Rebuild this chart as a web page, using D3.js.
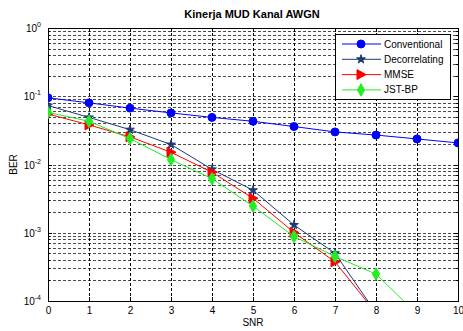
<!DOCTYPE html>
<html>
<head>
<meta charset="utf-8">
<script src="https://cdn.jsdelivr.net/npm/d3@7"></script>
<style>
  html, body { margin: 0; padding: 0; background: #fff; }
  svg { display: block; font-family: "Liberation Sans", Arial, sans-serif; }
</style>
</head>
<body>
<svg id="chart" width="463" height="331"></svg>
<script>
// SNR values and BER per detector
const snr = [0, 1, 2, 3, 4, 5, 6, 7, 8, 9, 10];
const conventional = [0.095, 0.080, 0.067, 0.057, 0.049, 0.043, 0.036, 0.030, 0.027, 0.0237, 0.0207];
const decorrelating = [0.073, 0.049, 0.0324, 0.0196, 0.0085, 0.0042, 0.0013, 0.00050, 0.000067];
const mmse = [0.055, 0.038, 0.0254, 0.0151, 0.0077, 0.0032, 0.00101, 0.000375, 0.000067];
const jstbp = [0.058, 0.043, 0.024, 0.0118, 0.0062, 0.00246, 0.00088, 0.00045, 0.000248, 0.000065];

const xTicks = [0, 1, 2, 3, 4, 5, 6, 7, 8, 9, 10];
const yDecades = [0, -1, -2, -3, -4];

const seriesList = [
  { name: "Conventional", values: conventional, color: "#0000ff", marker: "circle" },
  { name: "Decorrelating", values: decorrelating, color: "#1c3a78", marker: "star" },
  { name: "MMSE", values: mmse, color: "#ff0000", marker: "triangle" },
  { name: "JST-BP", values: jstbp, color: "#22ee22", marker: "diamond" }
];

const svg = d3.select("#chart");
const plot = { left: 48, right: 458, top: 28, bottom: 301 };

const x = d3.scaleLinear().domain([0, 10]).range([plot.left, plot.right]);
const y = d3.scaleLog().domain([1e-4, 1]).range([plot.bottom, plot.top]);

svg.append("clipPath").attr("id", "clip")
  .append("rect")
  .attr("x", plot.left).attr("y", plot.top)
  .attr("width", plot.right - plot.left).attr("height", plot.bottom - plot.top);

// grid (MATLAB style dotted)
const grid = svg.append("g");
const minorVals = [];
for (let e = -4; e < 0; e++) {
  for (let m = 1; m <= 9; m++) minorVals.push(m * Math.pow(10, e));
}
grid.selectAll("line.h")
  .data(minorVals.filter(v => v > 1e-4))
  .join("line")
  .attr("x1", plot.left).attr("x2", plot.right)
  .attr("y1", d => Math.round(y(d)) + 0.5).attr("y2", d => Math.round(y(d)) + 0.5)
  .attr("stroke", "#000")
  .attr("stroke-opacity", 0.7)
  .attr("stroke-dasharray", "3,2");
grid.selectAll("line.v")
  .data(xTicks.slice(1, -1))
  .join("line")
  .attr("x1", d => Math.round(x(d)) + 0.5).attr("x2", d => Math.round(x(d)) + 0.5)
  .attr("y1", plot.top).attr("y2", plot.bottom)
  .attr("stroke", "#000")
  .attr("stroke-dasharray", "3,2");

// axes
const xAxis = svg.append("g")
  .attr("transform", `translate(0,${plot.bottom + 0.5})`)
  .call(d3.axisBottom(x).tickValues(xTicks).tickSize(0).tickPadding(5).tickFormat(d3.format("d")));
xAxis.select(".domain").remove();
xAxis.selectAll("text").attr("font-size", 10).attr("fill", "#000").attr("font-family", "Liberation Sans, Arial, sans-serif");

const yLabels = svg.append("g");
yDecades.forEach(e => {
  const t = yLabels.append("text")
    .attr("x", 41)
    .attr("y", y(Math.pow(10, e)) + 4)
    .attr("text-anchor", "end")
    .attr("font-size", 10)
    .attr("fill", "#000");
  t.append("tspan").text("10");
  t.append("tspan").attr("dy", -5).attr("font-size", 7).text(e);
});

// tick marks inside on all four sides
const ticks = svg.append("g").attr("stroke", "#000").attr("stroke-width", 1);
xTicks.forEach(v => {
  const px = Math.round(x(v)) + 0.5;
  ticks.append("line").attr("x1", px).attr("x2", px).attr("y1", plot.bottom).attr("y2", plot.bottom - 4);
  ticks.append("line").attr("x1", px).attr("x2", px).attr("y1", plot.top).attr("y2", plot.top + 4);
});
minorVals.concat([1]).forEach(v => {
  const py = Math.round(y(v)) + 0.5;
  const len = Math.abs(Math.log10(v) - Math.round(Math.log10(v))) < 1e-9 ? 4 : 2;
  ticks.append("line").attr("x1", plot.left).attr("x2", plot.left + len).attr("y1", py).attr("y2", py);
  ticks.append("line").attr("x1", plot.right).attr("x2", plot.right - len).attr("y1", py).attr("y2", py);
});

svg.append("rect")
  .attr("x", plot.left + 0.5).attr("y", plot.top + 0.5)
  .attr("width", plot.right - plot.left).attr("height", plot.bottom - plot.top)
  .attr("fill", "none").attr("stroke", "#000");

// lines + markers
const line = d3.line().x((d, i) => x(snr[i])).y(d => y(d));
const symbolMap = {
  circle: d3.symbol().type(d3.symbolCircle).size(50),
  star: d3.symbol().type(d3.symbolStar).size(24),
  diamond: d3.symbol().type(d3.symbolDiamond).size(45)
};
function drawMarker(g, type, color) {
  if (type === "triangle") {
    g.append("path").attr("d", "M-4,-5L5,0L-4,5Z").attr("fill", color).attr("stroke", color);
  } else {
    g.append("path").attr("d", symbolMap[type]()).attr("fill", color).attr("stroke", color);
  }
}

const data = svg.append("g").attr("clip-path", "url(#clip)");
seriesList.forEach(s => {
  data.append("path")
    .attr("d", line(s.values))
    .attr("fill", "none")
    .attr("stroke", s.color)
    .attr("stroke-width", 1);
  s.values.forEach((v, i) => {
    if (v < 1e-4) return;
    const g = data.append("g").attr("transform", `translate(${x(snr[i])},${y(v)})`);
    drawMarker(g, s.marker, s.color);
  });
});

// titles
svg.append("text")
  .attr("x", 252).attr("y", 18)
  .attr("text-anchor", "middle")
  .attr("font-size", 11).attr("font-weight", "bold")
  .text("Kinerja MUD Kanal AWGN");
svg.append("text")
  .attr("x", (plot.left + plot.right) / 2).attr("y", 326)
  .attr("text-anchor", "middle")
  .attr("font-size", 10)
  .text("SNR");
svg.append("text")
  .attr("transform", `translate(17,${(plot.top + plot.bottom) / 2}) rotate(-90)`)
  .attr("text-anchor", "middle")
  .attr("font-size", 10)
  .text("BER");

// legend
const legend = svg.append("g").attr("transform", "translate(335,34)");
legend.append("rect")
  .attr("x", 0.5).attr("y", 0.5).attr("width", 115).attr("height", 65)
  .attr("fill", "#fff").attr("stroke", "#000");
seriesList.forEach((s, i) => {
  const row = legend.append("g").attr("transform", `translate(0,${10 + i * 15.3})`);
  row.append("line").attr("x1", 7).attr("x2", 46).attr("stroke", s.color);
  const m = row.append("g").attr("transform", "translate(26,0)");
  drawMarker(m, s.marker, s.color);
  row.append("text").attr("x", 49).attr("y", 3.5).attr("font-size", 10).text(s.name);
});
</script>
</body>
</html>
